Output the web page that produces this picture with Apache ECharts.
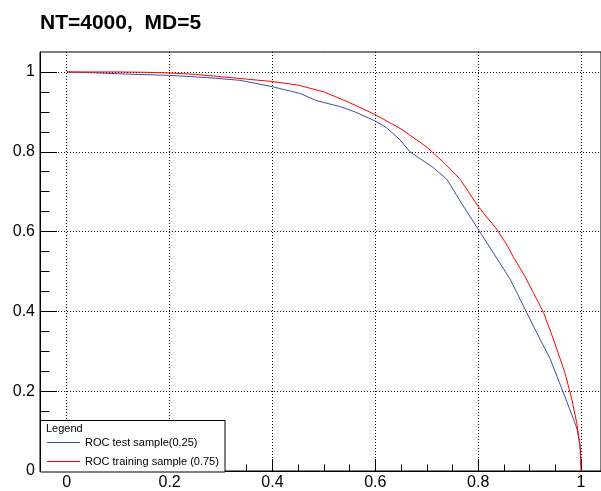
<!DOCTYPE html>
<html>
<head>
<meta charset="utf-8">
<script src="https://cdn.jsdelivr.net/npm/echarts@6/dist/echarts.min.js"></script>
<style>
html,body{margin:0;padding:0;background:#fff;}
#chart{width:601px;height:491px;}
</style>
</head>
<body>
<div id="chart"></div>
<script>
// ---- data ----
const titleText = 'NT=4000,  MD=5';
const xTicks = [0, 0.2, 0.4, 0.6, 0.8, 1];
const yTicks = [0, 0.2, 0.4, 0.6, 0.8, 1];
const xMinorTicks = [0.05,0.1,0.15,0.25,0.3,0.35,0.45,0.5,0.55,0.65,0.7,0.75,0.85,0.9,0.95];
const yMinorTicks = [0.05,0.1,0.15,0.25,0.3,0.35,0.45,0.5,0.55,0.65,0.7,0.75,0.85,0.9,0.95];

const testName = 'ROC test sample(0.25)';
const testX = [0, 0.05, 0.133, 0.2, 0.272, 0.337, 0.4, 0.454, 0.486, 0.532, 0.56, 0.6, 0.622, 0.648, 0.667, 0.713, 0.739, 0.771, 0.802, 0.862, 0.875, 0.894, 0.92, 0.94, 0.969, 0.985, 0.992, 0.998, 1.0];
const testY = [1, 0.998, 0.994, 0.9915, 0.986, 0.979, 0.963, 0.946, 0.928, 0.913, 0.9, 0.877, 0.86, 0.83, 0.8, 0.76, 0.731, 0.664, 0.602, 0.481, 0.4475, 0.3975, 0.331, 0.281, 0.185, 0.131, 0.106, 0.064, 0.03];

const trainName = 'ROC training sample (0.75)';
const trainX = [0, 0.1, 0.16, 0.2, 0.25, 0.3, 0.35, 0.4, 0.45, 0.5, 0.55, 0.6, 0.65, 0.7, 0.733, 0.765, 0.8, 0.836, 0.858, 0.868, 0.891, 0.907, 0.927, 0.946, 0.969, 0.982, 0.992, 0.998, 1.0];
const trainY = [1, 1, 0.999, 0.9975, 0.994, 0.988, 0.982, 0.976, 0.967, 0.95, 0.923, 0.893, 0.857, 0.812, 0.773, 0.731, 0.663, 0.606, 0.562, 0.537, 0.4875, 0.4475, 0.3975, 0.331, 0.245, 0.18, 0.118, 0.064, 0];

const legendTitle = 'Legend';

// ---- chart ----
const FONT = '"Liberation Sans", Arial, Helvetica, sans-serif';
const BLUE = '#3f4fa5';
const RED = '#ff0000';
const chart = echarts.init(document.getElementById('chart'), null, {renderer: 'canvas'});
const gridLine = {show: true, lineStyle: {color: '#000', width: 1, type: [1, 2]}};
const zip = (xs, ys) => xs.map((x, i) => [x, ys[i]]);

chart.setOption({
  animation: false,
  backgroundColor: '#fff',
  color: [BLUE, RED],
  title: {
    text: titleText, left: 40, top: 13, padding: 0,
    textStyle: {fontFamily: FONT, fontSize: 21, fontWeight: 'bold', color: '#000'}
  },
  grid: {left: 40, right: 0, top: 52, bottom: 19, show: true, borderColor: '#000', borderWidth: 1, backgroundColor: 'transparent'},
  xAxis: [
    {
      type: 'value', min: -0.052, max: 1.0388, position: 'bottom',
      axisLine: {show: true, onZero: false, lineStyle: {color: '#000', width: 1}},
      axisTick: {show: true, inside: true, length: 12, customValues: xTicks, lineStyle: {color: '#000'}},
      axisLabel: {show: true, customValues: xTicks, margin: 4, fontFamily: FONT, fontSize: 16, color: '#000',
        formatter: v => String(v)},
      splitLine: gridLine
    },
    {
      type: 'value', min: -0.052, max: 1.0388, position: 'bottom',
      axisLine: {show: false, onZero: false},
      axisTick: {show: true, inside: true, length: 6.5, customValues: xMinorTicks, lineStyle: {color: '#000'}},
      axisLabel: {show: false},
      splitLine: {show: false}
    }
  ],
  yAxis: [
    {
      type: 'value', min: 0, max: 1.05, position: 'left',
      axisLine: {show: true, onZero: false, lineStyle: {color: '#000', width: 1}},
      axisTick: {show: true, inside: true, length: 17, customValues: yTicks, lineStyle: {color: '#000'}},
      axisLabel: {show: true, customValues: yTicks, margin: 5, fontFamily: FONT, fontSize: 16, color: '#000',
        formatter: v => String(v)},
      splitLine: gridLine
    },
    {
      type: 'value', min: 0, max: 1.05, position: 'left',
      axisLine: {show: false, onZero: false},
      axisTick: {show: true, inside: true, length: 9.5, customValues: yMinorTicks, lineStyle: {color: '#000'}},
      axisLabel: {show: false},
      splitLine: {show: false}
    }
  ],
  legend: {
    show: true, orient: 'vertical', left: 80, top: 436, z: 9,
    icon: 'none', itemWidth: 0, itemHeight: 13, itemGap: 6, padding: 0,
    data: [testName, trainName],
    textStyle: {fontFamily: FONT, fontSize: 11, color: '#000', lineHeight: 13}
  },
  graphic: [
    {type: 'rect', z: 8, shape: {x: 40.5, y: 420.5, width: 184.5, height: 51.5},
      style: {fill: '#fff', stroke: '#000', lineWidth: 1}},
    {type: 'text', z: 20, left: 46, top: 423,
      style: {text: legendTitle, font: '11px ' + FONT, fill: '#000'}},
    {type: 'line', z: 20, shape: {x1: 47, y1: 442.5, x2: 80, y2: 442.5}, style: {stroke: BLUE, lineWidth: 1}},
    {type: 'line', z: 20, shape: {x1: 47, y1: 461.5, x2: 80, y2: 461.5}, style: {stroke: RED, lineWidth: 1}}
  ],
  series: [
    {name: testName, type: 'line', data: zip(testX, testY), showSymbol: false, symbol: 'none',
      itemStyle: {color: BLUE}, lineStyle: {width: 1, color: BLUE}, z: 3},
    {name: trainName, type: 'line', data: zip(trainX, trainY), showSymbol: false, symbol: 'none',
      itemStyle: {color: RED}, lineStyle: {width: 1, color: RED}, z: 3}
  ]
});
</script>
</body>
</html>
